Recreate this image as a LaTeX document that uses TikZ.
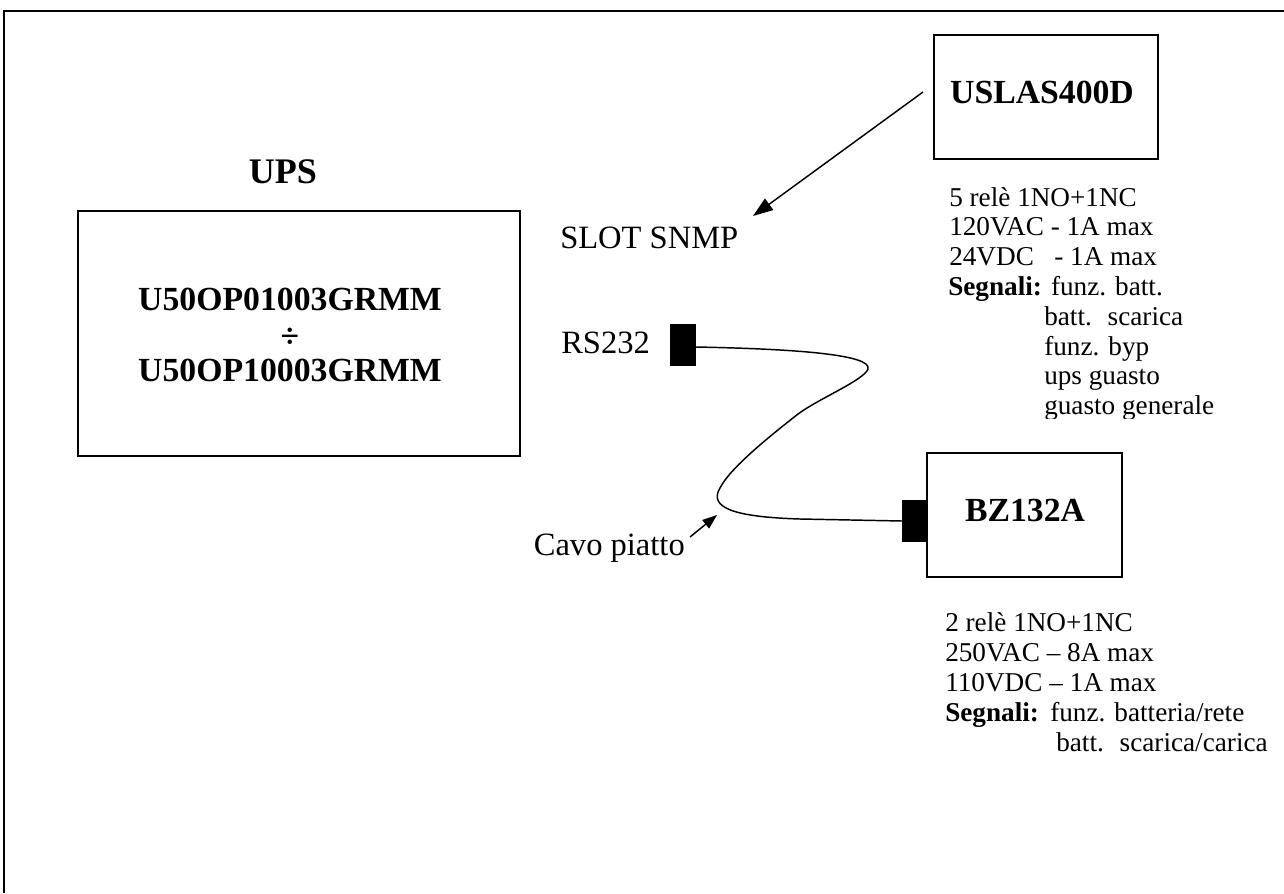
\documentclass[tikz,border=0pt]{standalone}
\usepackage{fontspec}
\setmainfont{Liberation Serif}
\usetikzlibrary{arrows.meta}
\begin{document}
\begin{tikzpicture}[x=0.75pt,y=-0.75pt,
  frame/.style={line width=1.6pt},
  boxline/.style={draw,line width=1.5pt},
  plug/.style={fill=black,draw=none},
  cable/.style={line width=1.1pt},
  bigb/.style={font=\fontsize{25.3pt}{29pt}\selectfont\bfseries,inner sep=0pt},
  titleb/.style={font=\fontsize{27pt}{30pt}\selectfont\bfseries,inner sep=0pt},
  lab/.style={font=\fontsize{24.4pt}{28pt}\selectfont,inner sep=0pt},
  spec/.style={font=\fontsize{20.4pt}{22pt}\selectfont,inner sep=0pt,anchor=base west},
  bigarrow/.style={line width=1.1pt,-{Triangle[length=15pt,width=10.5pt]}},
  smallarrow/.style={line width=1.1pt,-{Triangle[length=11pt,width=8pt]}}
]
\useasboundingbox (0,0) rectangle (1284,893);
% outer frame
\draw[frame] (4,893) -- (4,11) -- (1284,11);

% UPS
\node[titleb,anchor=base] (upstitle) at (283,183.5) {UPS};
\draw[boxline] (78,211) rectangle (520,456);
\node[bigb,anchor=base] (ups1) at (290,310.5) {U50OP01003GRMM};
\node[bigb,anchor=base] (ups2) at (290,347) {÷};
\node[bigb,anchor=base] (ups3) at (290,381.5) {U50OP10003GRMM};

% USLAS400D
\draw[boxline] (934,35) rectangle (1158,159);
\node[bigb,anchor=base] (uslas) at (1042,103.5) {USLAS400D};
\node[spec] (u1) at (949,206) {5 relè 1NO+1NC};
\node[spec] (u2) at (949,235.8) {120VAC - 1A max};
\node[spec] (u3) at (949,265.6) {24VDC \ \ - 1A max};
\node[spec] (u4) at (948,295.4) {\textbf{Segnali:} funz. batt.};
\node[spec] (u5) at (1044,325.2) {batt. \ scarica};
\node[spec] (u6) at (1044,355) {funz. byp};
\node[spec] (u7) at (1044,384.8) {ups guasto};
\begin{scope}
\clip (900,395) rectangle (1284,418);
\node[spec] (u8) at (1044,414.6) {guasto generale};
\end{scope}

% SLOT SNMP
\node[lab,anchor=base west] (slot) at (560,248.5) {SLOT SNMP};
\coordinate (arrstart) at (923,92);
\coordinate (arrtip) at (753,216);
\draw[bigarrow] (arrstart) -- (arrtip);

% RS232
\node[lab,anchor=base west] (rs) at (561,353.5) {RS232};
\fill[plug] (670,324) rectangle (696,366);
\coordinate (rsout) at (696,347);

% BZ132A
\draw[boxline] (927,453) rectangle (1122,577);
\node[bigb,anchor=base] (bz) at (1025,521.5) {BZ132A};
\fill[plug] (902,500) rectangle (928,542);
\coordinate (bzin) at (902,521);

% cable
\draw[cable] (rsout) .. controls (800,349) and (872,355) .. (868,369)
  .. controls (864,380) and (820,398) .. (798,414)
  .. controls (770,436) and (730,468) .. (720,488)
  .. controls (708,508) and (735,517) .. (800,519)
  -- (bzin);

% Cavo piatto
\node[lab,anchor=base east] (cavo) at (685,555) {Cavo piatto};
\coordinate (cavotail) at (690,537);
\coordinate (cavotip) at (717,515);
\draw[smallarrow] (cavotail) -- (cavotip);

% BZ132A specs
\node[spec] (b1) at (945,631) {2 relè 1NO+1NC};
\node[spec] (b2) at (945,661) {250VAC – 8A max};
\node[spec] (b3) at (945,691) {110VDC – 1A max};
\node[spec] (b4) at (945,721) {\textbf{Segnali:}};
\node[spec] (b4b) at (1050,721) {funz. batteria/rete};
\node[spec] (b5) at (1056,751) {batt. \ scarica/carica};
\end{tikzpicture}
\end{document}
